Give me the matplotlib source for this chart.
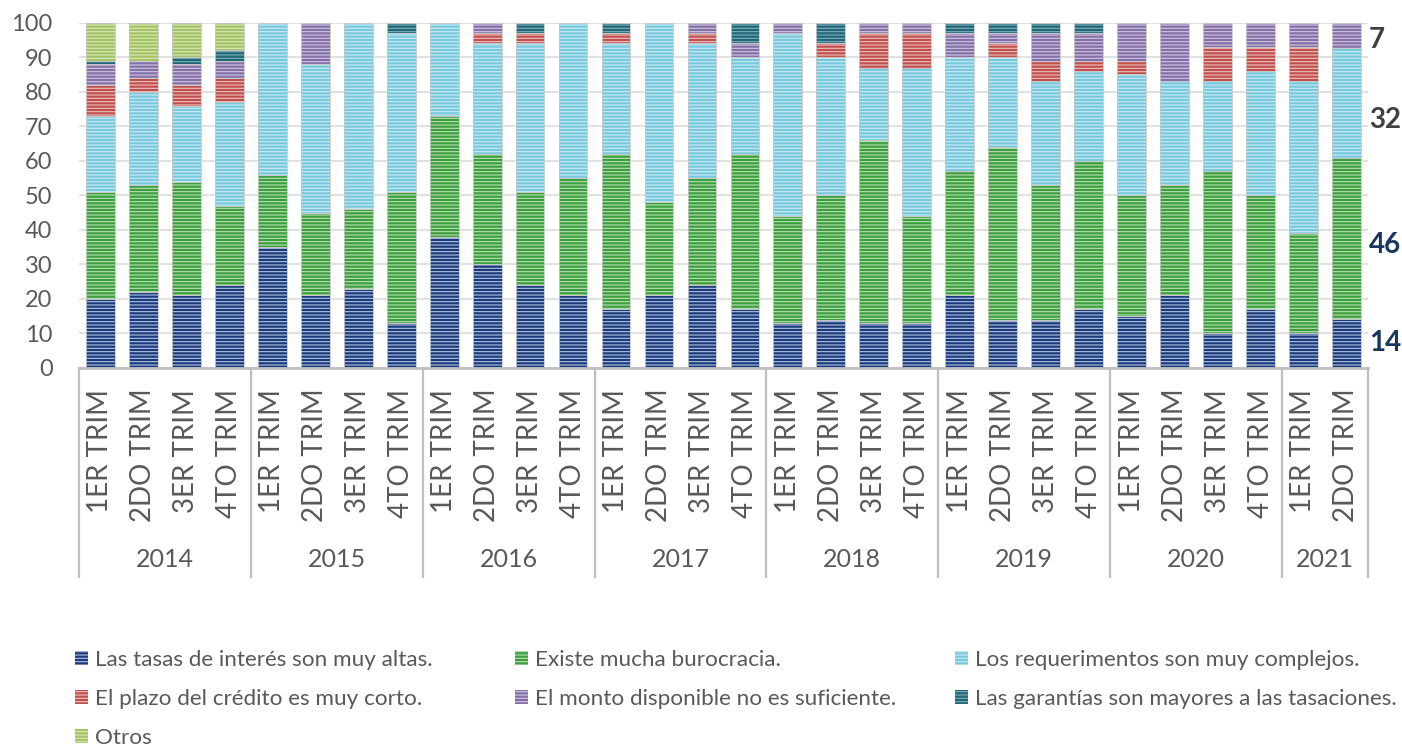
import matplotlib
matplotlib.use("Agg")
import matplotlib.pyplot as plt
from matplotlib.patches import Patch
from matplotlib.lines import Line2D
import numpy as np

plt.rcParams["font.family"] = ["Lato", "DejaVu Sans"]
plt.rcParams["hatch.linewidth"] = 0.8

# ---- data -------------------------------------------------------------
years = ["2014", "2015", "2016", "2017", "2018", "2019", "2020", "2021"]
quarters_per_year = [4, 4, 4, 4, 4, 4, 4, 2]
quarter_names = ["1ER TRIM", "2DO TRIM", "3ER TRIM", "4TO TRIM"]

series_names = [
    "Las tasas de interés son muy altas.",
    "Existe mucha burocracia.",
    "Los requerimentos son muy complejos.",
    "El plazo del crédito es muy corto.",
    "El monto disponible no es suficiente.",
    "Las garantías son mayores a las tasaciones.",
    "Otros",
]

tasas = [20, 22, 21, 24, 35, 21, 23, 13, 38, 30, 24, 21, 17, 21, 24, 17,
         13, 14, 13, 13, 21, 14, 14, 17, 15, 21, 10, 17, 10, 14.3]
burocracia = [31, 31, 33, 23, 21, 24, 23, 38, 35, 32, 27, 34, 45, 27, 31, 45,
              31, 36, 53, 31, 36, 50, 39, 43, 35, 32, 47, 33, 29, 46.4]
requerimientos = [22, 27, 22, 30, 44, 43, 54, 46, 27, 32, 43, 45, 32, 52, 39, 28,
                  53, 40, 21, 43, 33, 26, 30, 26, 35, 30, 26, 36, 44, 32.1]
plazo = [9, 4, 6, 7, 0, 0, 0, 0, 0, 3, 3, 0, 3, 0, 3, 0,
         0, 4, 10, 10, 0, 4, 6, 3, 4, 0, 10, 7, 10, 0]
monto = [6, 5, 6, 5, 0, 12, 0, 0, 0, 3, 0, 0, 0, 0, 3, 4,
         3, 0, 3, 3, 7, 3, 8, 8, 11, 17, 7, 7, 7, 7.2]
garantias = [1, 0, 2, 3, 0, 0, 0, 3, 0, 0, 3, 0, 3, 0, 0, 6,
             0, 6, 0, 0, 3, 3, 3, 3, 0, 0, 0, 0, 0, 0]
otros = [11, 11, 10, 8, 0, 0, 0, 0, 0, 0, 0, 0, 0, 0, 0, 0,
         0, 0, 0, 0, 0, 0, 0, 0, 0, 0, 0, 0, 0, 0]

series = [tasas, burocracia, requerimientos, plazo, monto, garantias, otros]

# ---- styling ----------------------------------------------------------
face_colors = ["#1B3A7C", "#3C9F3C", "#78C8DE", "#C0504D", "#8470A8", "#1E6878", "#A3C365"]
stripe_colors = ["#B3C3E2", "#B8E2B8", "#CBEBF4", "#EFC2C0", "#D0C7E0", "#80AEB9", "#DAE9BA"]
hatch = "-----"
text_gray = "#595959"
grid_gray = "#D9D9D9"
axis_gray = "#BFBFBF"

fig = plt.figure(figsize=(14.02, 7.49), dpi=100)
ax = fig.add_axes([0.0563, 0.5087, 0.9194, 0.4610])

n = len(tasas)
x = np.arange(n)
width = 0.67
bottom = np.zeros(n)
for vals, fc, sc in zip(series, face_colors, stripe_colors):
    vals = np.asarray(vals, dtype=float)
    ax.bar(x, vals, width, bottom=bottom, color=fc, edgecolor=sc,
           linewidth=0, hatch=hatch, zorder=2)
    ax.bar(x, vals, width, bottom=bottom, fill=False, edgecolor="#C8C8C8",
           linewidth=0.6, zorder=3)
    bottom += vals

ax.set_ylim(0, 100)
ax.set_xlim(-0.5, n - 0.5)
ax.set_yticks(np.arange(0, 101, 10))
ax.yaxis.grid(True, color=grid_gray, linewidth=1.1, zorder=0)
ax.set_axisbelow(True)
ax.tick_params(axis="y", length=0, pad=19, labelsize=17, labelcolor=text_gray)
for side in ("left", "right", "top"):
    ax.spines[side].set_visible(False)
ax.spines["bottom"].set_color(axis_gray)
ax.spines["bottom"].set_linewidth(2)
ax.spines["bottom"].set_zorder(4)

# quarter labels
quarter_labels = []
for q in quarters_per_year:
    quarter_labels += quarter_names[:q]
ax.set_xticks(x)
ax.set_xticklabels(quarter_labels, rotation=90, va="top", ha="center")
ax.tick_params(axis="x", length=0, pad=15, labelsize=20, labelcolor=text_gray)

# year groups with separators
trans = ax.get_xaxis_transform()
edges = np.concatenate([[0], np.cumsum(quarters_per_year)]) - 0.5
for e in edges:
    ax.add_line(Line2D([e, e], [0, -0.605], transform=trans, color=axis_gray,
                       linewidth=1.6, clip_on=False))
for yr, a, b in zip(years, edges[:-1], edges[1:]):
    ax.text((a + b) / 2, -0.556, yr, transform=trans, ha="center", va="center",
            fontsize=18, color=text_gray)

# values of the latest quarter
last = [s[-1] for s in series]
cum = np.cumsum(last)
label_series = [0, 1, 2, 4]
label_nudge = [0, -2, -5, -1.5]
label_colors = ["#17375E", "#17375E", "#404040", "#404040"]
for i, dy, c in zip(label_series, label_nudge, label_colors):
    center = cum[i] - last[i] / 2 + dy
    ax.text(n - 0.5 + 0.03, center, f"{last[i]:.0f}", ha="left", va="center",
            fontsize=20, fontweight="bold", color=c, clip_on=False)

# legend: three columns, filled row by row
handles = [Patch(facecolor=fc, edgecolor=sc, linewidth=0, hatch=hatch)
           for fc, sc in zip(face_colors, stripe_colors)]
columns = [[0, 3, 6], [1, 4], [2, 5]]
column_x = [75, 515, 955]
for idx, cx in zip(columns, column_x):
    fig.legend([handles[i] for i in idx], [series_names[i] for i in idx],
               ncol=1, loc="upper left",
               bbox_to_anchor=(cx / 1402, 1 - 650 / 749),
               frameon=False, fontsize=16.2, handlelength=0.58, handleheight=0.58,
               handletextpad=0.32, labelspacing=0.845,
               borderpad=0, borderaxespad=0, labelcolor=text_gray)

fig.savefig("out.png", dpi=100)
